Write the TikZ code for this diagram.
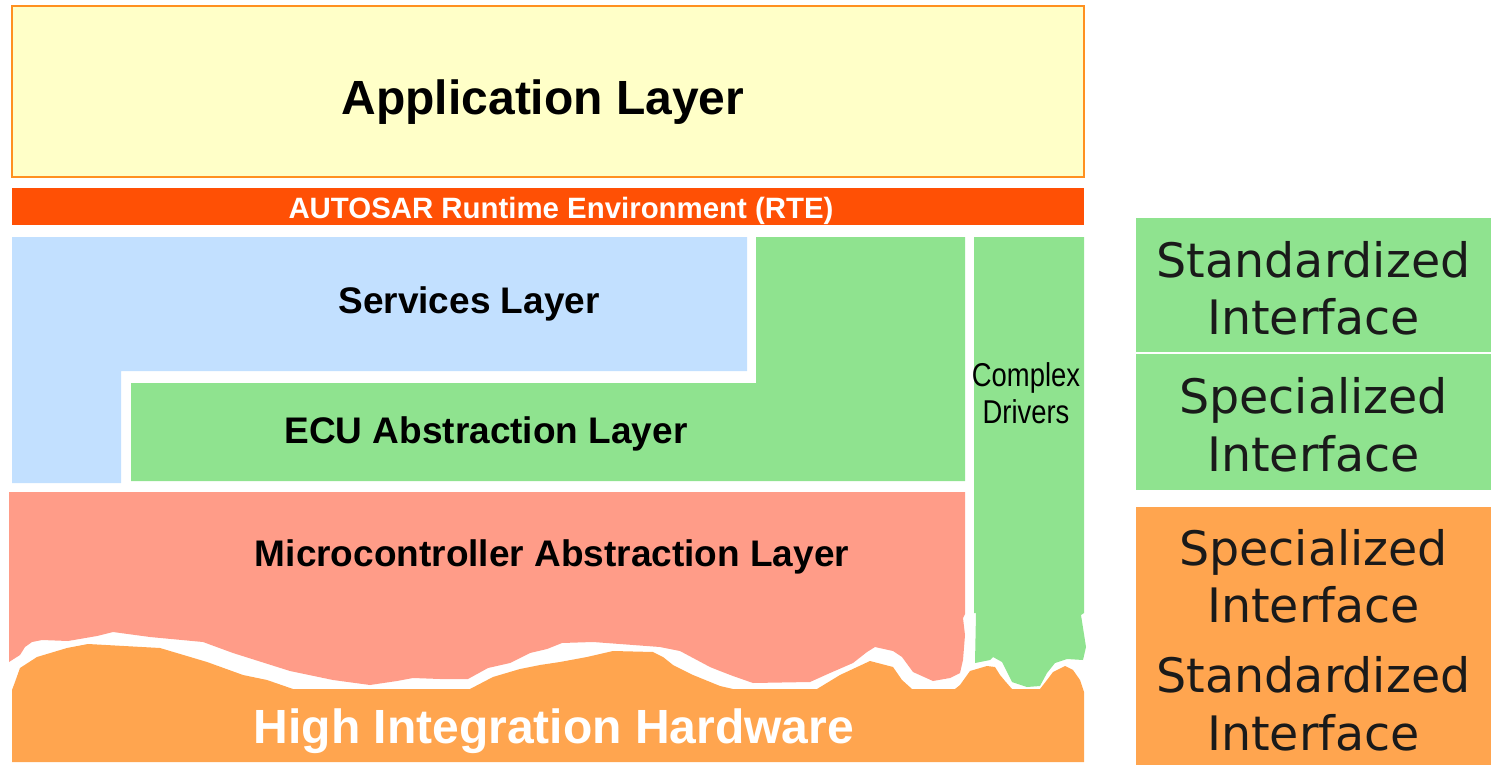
\documentclass[tikz,border=0pt]{standalone}
\usepackage{fontspec}
\setmainfont{Liberation Sans}
\newfontfamily\narrowfont[FakeStretch=0.83]{Liberation Sans}
\newfontfamily\legendfont{DejaVu Sans}

\definecolor{appfill}{HTML}{FFFFC8}
\definecolor{appline}{HTML}{FF9020}
\definecolor{rtefill}{HTML}{FF5005}
\definecolor{svcfill}{HTML}{C2E0FF}
\definecolor{ecufill}{HTML}{8FE38F}
\definecolor{mcalfill}{HTML}{FF9C88}
\definecolor{hwfill}{HTML}{FFA54F}
\definecolor{legendtext}{HTML}{1A1A1A}

\tikzset{
  layertext/.style={anchor=base, inner sep=0pt, font=\bfseries\fontsize{37}{44}\selectfont},
  bigtext/.style={anchor=base, inner sep=0pt, font=\bfseries\fontsize{48}{58}\selectfont},
  cdtext/.style={anchor=base, inner sep=0pt, font=\narrowfont\fontsize{33}{37}\selectfont},
  legtext/.style={anchor=base, inner sep=0pt, text=legendtext, font=\legendfont\fontsize{47.5}{57}\selectfont},
}

\begin{document}
\begin{tikzpicture}[x=1pt,y=-1pt]
\useasboundingbox (0,0) rectangle (1491,765);

% Application layer
\filldraw[fill=appfill, draw=appline, line width=2pt] (12,6) rectangle (1084,177);
\node[bigtext] (app) at (543,115) {Application Layer};

% Runtime environment bar
\fill[rtefill] (12,188) rectangle (1084,225);
\node[anchor=base, inner sep=0pt, text=white, font=\bfseries\fontsize{29.4}{35}\selectfont] (rte) at (561,218) {AUTOSAR Runtime Environment (RTE)};

% Services layer (L-shape)
\fill[svcfill] (12,237) -- (747,237) -- (747,371) -- (121,371) -- (121,483) -- (12,483) -- cycle;
\node[layertext] (svc) at (469,313) {Services Layer};

% ECU abstraction layer (L-shape)
\fill[ecufill] (131,383) -- (756,383) -- (756,237) -- (965,237) -- (965,481) -- (131,481) -- cycle;
\node[layertext] (ecu) at (486,443) {ECU Abstraction Layer};

% Complex drivers column with torn lower edge
\fill[ecufill] (974,237) -- (1084,237) -- (1084,613) -- (1081,615) -- (1086,647) -- (1083,660)
  -- (1067,659) -- (1055,663) -- (1047,673) -- (1040,686) -- (1027,687) -- (1012,682)
  -- (1002,662) -- (993,657) -- (990,660) -- (975,663) -- (976,613) -- (974,613) -- cycle;
\node[cdtext] (cd1) at (1026,386) {Complex};
\node[cdtext] (cd2) at (1026,423) {Drivers};

% Microcontroller abstraction layer with torn lower edge
\fill[mcalfill] (9,492) -- (965,492) -- (965,614) -- (963,618) -- (965,635) -- (963,660)
  -- (960,673) -- (950,678) -- (933,681) -- (913,672) -- (902,657) -- (893,651) -- (875,647)
  -- (867,652) -- (853,663) -- (830,673) -- (810,682) -- (753,683) -- (733,676) -- (720,671)
  -- (710,667) -- (680,651) -- (660,647) -- (593,642) -- (562,643) -- (547,649) -- (530,653)
  -- (510,663) -- (488,668) -- (468,679) -- (440,679) -- (413,678) -- (397,681) -- (370,685)
  -- (333,680) -- (290,671) -- (233,653) -- (203,642) -- (150,637) -- (113,632) -- (97,636)
  -- (68,641) -- (42,640) -- (32,642) -- (25,647) -- (20,655) -- (9,662) -- cycle;
\node[layertext] (mcal) at (552,566) {Microcontroller Abstraction Layer};

% Hardware with uneven upper edge
\fill[hwfill] (12,762) -- (12,690) -- (15,682) -- (20,668) -- (37,657) -- (67,648) -- (88,644)
  -- (160,648) -- (207,662) -- (243,675) -- (267,680) -- (293,689) -- (470,689) -- (493,677)
  -- (520,669) -- (540,665) -- (560,662) -- (587,657) -- (613,651) -- (653,652) -- (663,657)
  -- (673,665) -- (693,675) -- (720,686) -- (733,689) -- (817,689) -- (840,675) -- (870,661)
  -- (893,667) -- (902,680) -- (912,689) -- (955,689) -- (960,685) -- (970,671) -- (987,666)
  -- (995,667) -- (1000,675) -- (1005,681) -- (1012,689) -- (1040,689) -- (1047,680)
  -- (1053,672) -- (1065,666) -- (1073,670) -- (1080,680) -- (1084,692) -- (1084,762) -- cycle;
\node[bigtext, text=white] (hw) at (554,743) {High Integration Hardware};

% Legend
\fill[ecufill] (1136,218) rectangle (1491,352);
\fill[ecufill] (1136,354) rectangle (1491,490);
\fill[hwfill] (1136,507) rectangle (1491,765);
\node[legtext] (l1a) at (1313.5,277) {Standardized};
\node[legtext] (l1b) at (1313.5,334) {Interface};
\node[legtext] (l2a) at (1313.5,413) {Specialized};
\node[legtext] (l2b) at (1313.5,471) {Interface};
\node[legtext] (l3a) at (1313.5,565) {Specialized};
\node[legtext] (l3b) at (1313.5,622) {Interface};
\node[legtext] (l4a) at (1313.5,692) {Standardized};
\node[legtext] (l4b) at (1313.5,750) {Interface};
\end{tikzpicture}
\end{document}
